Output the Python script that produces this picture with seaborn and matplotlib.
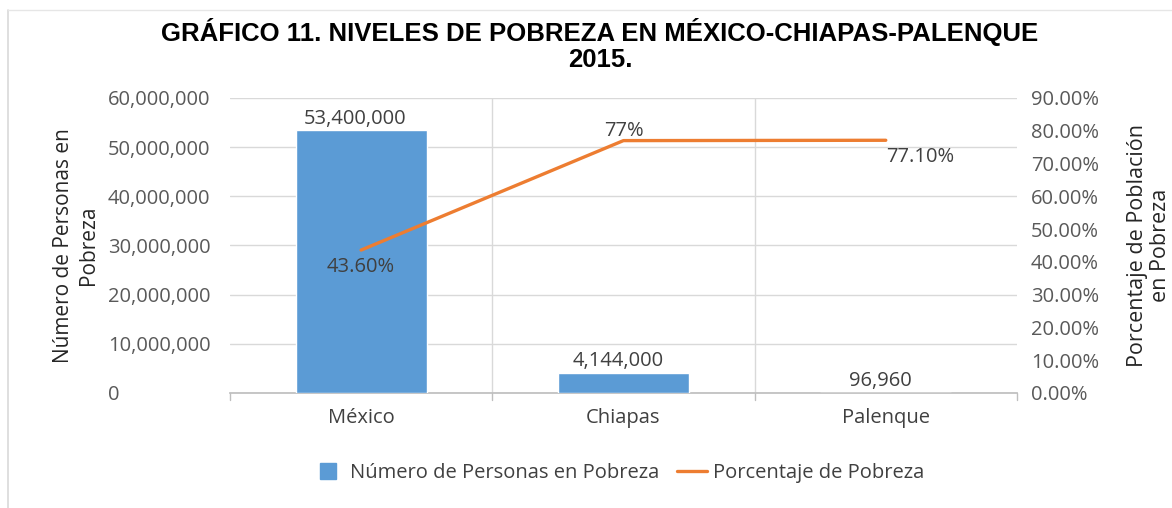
import matplotlib
matplotlib.use("Agg")
import matplotlib.pyplot as plt
from matplotlib.lines import Line2D
import seaborn as sns
import pandas as pd

# Data
regiones = ["México", "Chiapas", "Palenque"]
personas_pobreza = [53400000, 4144000, 96960]
porcentaje_pobreza = [43.6, 77.0, 77.1]
etiquetas_personas = ["53,400,000", "4,144,000", "96,960"]
etiquetas_porcentaje = ["43.60%", "77%", "77.10%"]

sns.set_theme(style="white")
plt.rcParams["font.family"] = ["Open Sans", "DejaVu Sans"]

AZUL = "#5B9BD5"
NARANJA = "#ED7D31"
GRIS_TXT = "#595959"
GRIS_LINEA = "#D9D9D9"
FS = 14.5

df = pd.DataFrame({"region": regiones, "personas": personas_pobreza,
                   "pct": porcentaje_pobreza, "pos": range(len(regiones))})

fig = plt.figure(figsize=(11.72, 5.08), dpi=100)
ax = fig.add_axes([0.1962, 0.2264, 0.6715, 0.5807])

sns.barplot(data=df, x="region", y="personas", color=AZUL, width=0.5,
            saturation=1, ax=ax, zorder=3)
ax.set_xlim(-0.5, 2.5)
ax.set_ylim(0, 60000000)
ax.set_yticks(range(0, 60000001, 10000000))
ax.set_yticklabels([f"{v:,}" for v in range(0, 60000001, 10000000)])
for lbl in ax.get_yticklabels():
    lbl.set_horizontalalignment("left")
ax.tick_params(axis="y", length=0, pad=88, labelsize=FS, labelcolor=GRIS_TXT)
ax.tick_params(axis="x", length=0, pad=11, labelsize=FS, labelcolor="#404040")
ax.grid(axis="y", color=GRIS_LINEA, linewidth=1, zorder=0)
ax.set_axisbelow(True)
for b in (0.5, 1.5):
    ax.axvline(b, color=GRIS_LINEA, linewidth=1, zorder=0)
for b in (-0.5, 0.5, 1.5, 2.5):
    ax.plot([b, b], [0, -0.025], transform=ax.get_xaxis_transform(),
            color="#BFBFBF", linewidth=1, clip_on=False)
for s in ("top", "right", "left"):
    ax.spines[s].set_visible(False)
ax.spines["bottom"].set_color("#BFBFBF")
ax.set_xlabel("")
ax.set_ylabel("Número de Personas en\nPobreza", fontsize=15, color="#262626",
              labelpad=6, linespacing=1.25)

for i, (v, t) in enumerate(zip(personas_pobreza, etiquetas_personas)):
    ax.annotate(t, (i, v), xytext=(-4, 1), textcoords="offset points",
                ha="center", va="bottom", fontsize=FS, color="#404040")

ax2 = ax.twinx()
sns.lineplot(data=df, x="pos", y="pct", color=NARANJA, linewidth=2.4, ax=ax2,
             zorder=4)
ax2.set_ylim(0, 90)
ax2.set_yticks(range(0, 91, 10))
ax2.set_yticklabels([f"{v:.2f}%" for v in range(0, 91, 10)])
ax2.tick_params(axis="y", length=0, pad=10, labelsize=FS, labelcolor=GRIS_TXT)
for s in ("top", "right", "left", "bottom"):
    ax2.spines[s].set_visible(False)
ax2.set_xlabel("")
ax2.set_ylabel("Porcentaje de Población\nen Pobreza", fontsize=15.5,
               color="#262626", labelpad=20, linespacing=1.15)
ax2.set_xlim(-0.5, 2.5)

offsets = [(0, -5, "center", "top"), (0, 0, "center", "bottom"),
           (0, -5, "left", "top")]
for i, (v, t) in enumerate(zip(porcentaje_pobreza, etiquetas_porcentaje)):
    dx, dy, ha, va = offsets[i]
    ax2.annotate(t, (i, v), xytext=(dx, dy), textcoords="offset points",
                 ha=ha, va=va, fontsize=FS, color="#404040")

fig.text(0.512, 0.912, "GRÁFICO 11. NIVELES DE POBREZA EN MÉXICO-CHIAPAS-PALENQUE\n2015.",
         ha="center", va="center", fontsize=18.5, fontweight="bold",
         family=["Liberation Sans Narrow", "Liberation Sans", "DejaVu Sans"],
         color="#000000", linespacing=1.1)

handles = [Line2D([], [], marker="s", linestyle="none", markersize=11,
                  color=AZUL),
           Line2D([], [], color=NARANJA, linewidth=2.4)]
fig.legend(handles, ["Número de Personas en Pobreza", "Porcentaje de Pobreza"],
           loc="center", bbox_to_anchor=(0.528, 0.068), ncol=2, frameon=False,
           fontsize=FS, labelcolor="#404040", handlelength=1.5,
           handletextpad=0.3, columnspacing=0.9)

# chart frame
fig.add_artist(Line2D([0.007, 0.007], [0, 0.98], color="#D9D9D9", linewidth=1.2))
fig.add_artist(Line2D([0.007, 1.0], [0.98, 0.98], color="#E6E6E6", linewidth=1))

fig.savefig("out.png", dpi=100)
